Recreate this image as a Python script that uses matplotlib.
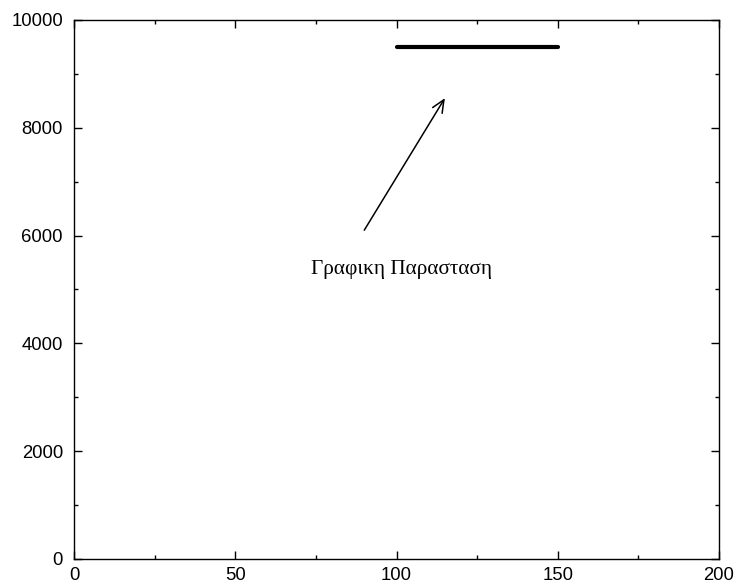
import matplotlib
matplotlib.use("Agg")
import matplotlib.pyplot as plt
from matplotlib.ticker import MultipleLocator

# data
x = [100, 110, 120, 130, 140, 150]
y = [9500, 9500, 9500, 9500, 9500, 9500]

arrow_from = (90, 6100)
arrow_to = (115, 8550)
label = "Γραφικη Παρασταση"
label_pos = (73.5, 5370)

fig = plt.figure(figsize=(7.37, 5.83), dpi=100)
ax = fig.add_axes([0.1004, 0.0412, 0.8752, 0.9245])

ax.plot(x, y, color="black", lw=3, solid_capstyle="round")

ax.annotate("", xy=arrow_to, xytext=arrow_from,
            arrowprops=dict(arrowstyle="->,head_length=0.9,head_width=0.4",
                            color="black", lw=1.1, shrinkA=0, shrinkB=0))
ax.text(label_pos[0], label_pos[1], label, family="Liberation Serif",
        fontsize=15.3, va="center", ha="left")

ax.set_xlim(0, 200)
ax.set_ylim(0, 10000)
ax.xaxis.set_major_locator(MultipleLocator(50))
ax.xaxis.set_minor_locator(MultipleLocator(25))
ax.yaxis.set_major_locator(MultipleLocator(2000))
ax.yaxis.set_minor_locator(MultipleLocator(1000))

ax.tick_params(which="both", direction="in", top=True, right=True,
               labelsize=13.3, width=1, color="black")
ax.tick_params(which="major", length=6)
ax.tick_params(which="minor", length=3)
ax.tick_params(axis="x", pad=6)
ax.tick_params(axis="y", pad=8)
for lab in ax.get_xticklabels() + ax.get_yticklabels():
    lab.set_family("Liberation Sans")
for s in ax.spines.values():
    s.set_linewidth(1)

fig.savefig("out.png", dpi=100)
